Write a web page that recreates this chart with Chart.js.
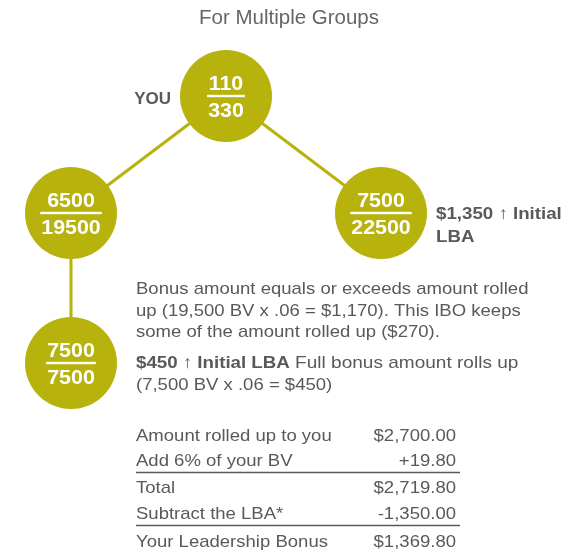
<!DOCTYPE html>
<html><head><meta charset="utf-8">
<script src="https://cdn.jsdelivr.net/npm/chart.js@4.4.1/dist/chart.umd.min.js"></script>
<style>html,body{margin:0;padding:0;background:#fff}#wrap{width:567px;height:553px;position:relative}</style>
</head><body><div id="wrap"><canvas id="c"></canvas></div>
<script>
// ---- data ----
const title = 'For Multiple Groups';
const nodeNames = ['YOU', 'Left group', 'Right group', 'Lower group'];
const groupBV = [110, 6500, 7500, 7500];
const groupTotal = [330, 19500, 22500, 7500];
const nodeParent = [null, 0, 0, 1];
const rightNote = ['$1,350 \u2191 Initial', 'LBA'];
const keepNote = ['Bonus amount equals or exceeds amount rolled', 'up (19,500 BV x .06 = $1,170). This IBO keeps', 'some of the amount rolled up ($270).'];
const rollNoteBold = '$450 \u2191 Initial LBA';
const rollNote = [' Full bonus amount rolls up', '(7,500 BV x .06 = $450)'];
const tableLabels = ['Amount rolled up to you', 'Add 6% of your BV', 'Total', 'Subtract the LBA*', 'Your Leadership Bonus'];
const tableValues = ['$2,700.00', '+19.80', '$2,719.80', '-1,350.00', '$1,369.80'];
const ruleAfterRow = [1, 3];

// ---- layout (diagram space = canvas units) ----
const layout = {
  nodeX: [226, 71, 381, 71],
  nodeY: [96, 213, 213, 363],
  radius: 46
};

const OLIVE = '#B8B20C';
const TEXT = '#58595B';
const FONT = '"Liberation Sans", Arial, sans-serif';

const nodePoints = groupBV.map((v, i) => ({x: layout.nodeX[i], y: layout.nodeY[i], bv: v, total: groupTotal[i], name: nodeNames[i]}));
const edgeDatasets = nodeParent.map((p, i) => p === null ? null : {
  type: 'line',
  data: [{x: layout.nodeX[p], y: layout.nodeY[p]}, {x: layout.nodeX[i], y: layout.nodeY[i]}],
  showLine: true, borderColor: OLIVE, borderWidth: 3, pointRadius: 0, order: 2
}).filter(Boolean);

// draw text with horizontal scale sx, align: 'left' | 'center' | 'right'
function txt(ctx, t, x, y, align, sx) {
  const w = ctx.measureText(t).width * sx;
  let x0 = x;
  if (align === 'center') x0 = x - w / 2;
  else if (align === 'right') x0 = x - w;
  ctx.save();
  ctx.textAlign = 'left';
  ctx.translate(x0, y);
  ctx.scale(sx, 1);
  ctx.fillText(t, 0, 0);
  ctx.restore();
  return w;
}

const textPlugin = {
  id: 'diagramText',
  afterDraw(chart) {
    const ctx = chart.ctx, xs = chart.scales.x, ys = chart.scales.y;
    const X = v => xs.getPixelForValue(v), Y = v => ys.getPixelForValue(v);
    const SB = 1.09, SBOLD = 1.1;
    ctx.save();
    ctx.textBaseline = 'alphabetic';
    // title
    ctx.fillStyle = '#666666';
    ctx.font = '20px ' + FONT;
    txt(ctx, title, X(289), Y(24), 'center', 1.025);
    // node fractions
    nodePoints.forEach(p => {
      const cx = X(p.x), cy = Y(p.y);
      ctx.fillStyle = '#FFFFFF';
      ctx.font = 'bold 20px ' + FONT;
      const a = String(p.bv), b = String(p.total);
      const wa = txt(ctx, a, cx, cy - 6.5, 'center', 1.07);
      const wb = txt(ctx, b, cx, cy + 21, 'center', 1.07);
      const w = Math.max(wa, wb) + 2;
      ctx.fillRect(cx - w / 2, cy - 1.2, w, 2.4);
    });
    // YOU label
    ctx.fillStyle = TEXT;
    ctx.font = 'bold 17px ' + FONT;
    txt(ctx, nodeNames[0], X(171), Y(104), 'right', 1.0);
    // right note
    txt(ctx, rightNote[0], X(436), Y(218.5), 'left', SBOLD);
    txt(ctx, rightNote[1], X(436), Y(241.5), 'left', SBOLD);
    // keep note
    ctx.font = '17px ' + FONT;
    const keepBase = [294, 315.5, 337];
    keepNote.forEach((t, i) => txt(ctx, t, X(136), Y(keepBase[i]), 'left', SB));
    // roll note
    ctx.font = 'bold 17px ' + FONT;
    const bw = txt(ctx, rollNoteBold, X(136), Y(367.5), 'left', SBOLD);
    ctx.font = '17px ' + FONT;
    txt(ctx, rollNote[0], X(136) + bw, Y(367.5), 'left', 1.12);
    txt(ctx, rollNote[1], X(136), Y(389.5), 'left', SB);
    // table
    const rowBase = [440.5, 466, 493, 518.5, 547];
    tableLabels.forEach((t, i) => {
      txt(ctx, t, X(136), Y(rowBase[i]), 'left', SB);
      txt(ctx, tableValues[i], X(456), Y(rowBase[i]), 'right', SB);
    });
    ctx.strokeStyle = '#58595B';
    ctx.lineWidth = 1.3;
    const ruleY = [472.5, 525.5];
    ruleAfterRow.forEach((r, k) => {
      ctx.beginPath();
      ctx.moveTo(X(136), Y(ruleY[k]));
      ctx.lineTo(X(460), Y(ruleY[k]));
      ctx.stroke();
    });
    ctx.restore();
  }
};

new Chart(document.getElementById('c'), {
  type: 'scatter',
  data: {
    datasets: [
      {data: nodePoints, pointRadius: layout.radius, pointHoverRadius: layout.radius, pointBackgroundColor: OLIVE, pointBorderWidth: 0, borderWidth: 0, order: 1, clip: false},
      ...edgeDatasets
    ]
  },
  options: {
    responsive: true, maintainAspectRatio: false, animation: false, devicePixelRatio: 1,
    layout: {padding: 0, autoPadding: false},
    events: [],
    plugins: {legend: {display: false}, tooltip: {enabled: false}, title: {display: false}},
    scales: {
      x: {type: 'linear', min: 0, max: 567, display: false},
      y: {type: 'linear', min: 0, max: 553, reverse: true, display: false}
    }
  },
  plugins: [textPlugin]
});
</script></body></html>
